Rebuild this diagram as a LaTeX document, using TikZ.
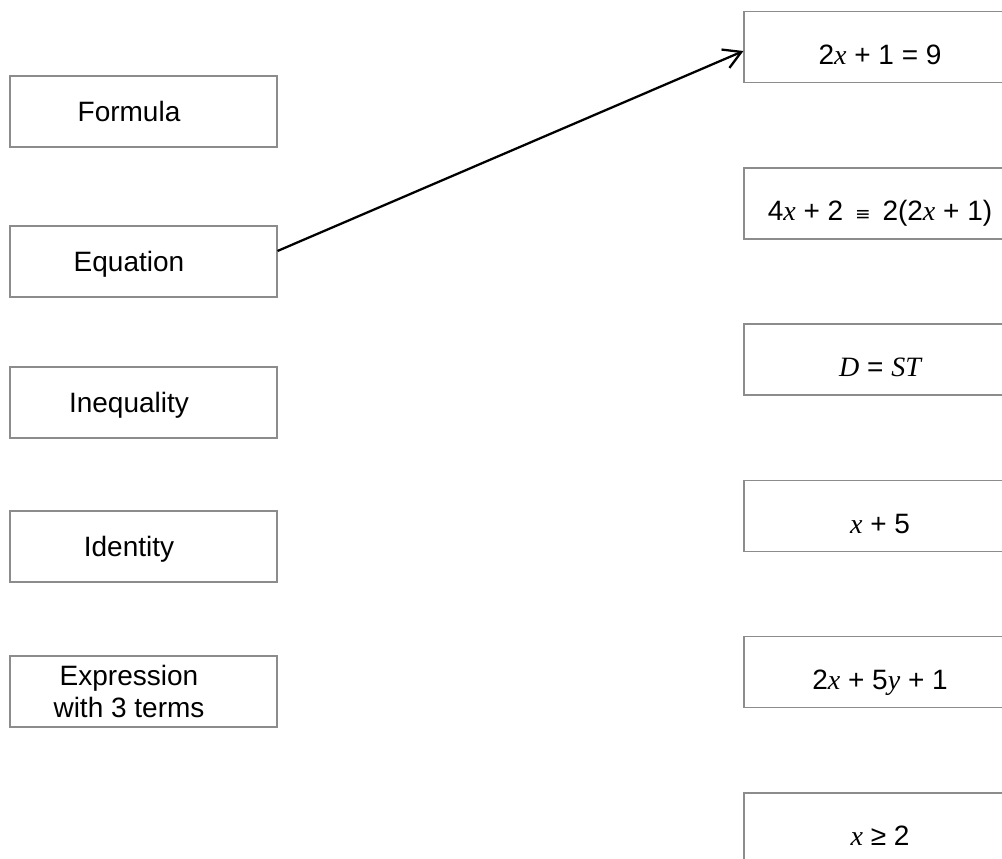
\documentclass[tikz,border=0pt]{standalone}
\usepackage{fontspec}
\setmainfont{Liberation Sans}
\newfontfamily\vfont{Liberation Serif}
\newfontfamily\symfont{DejaVu Sans}
\usetikzlibrary{arrows.meta}
\newcommand{\mv}[1]{{\vfont\itshape #1}}
\newcommand{\tpad}{\hspace*{21.75pt}}

\begin{document}
\begin{tikzpicture}[x=0.75pt, y=-0.75pt]
        \tikzstyle{box}=[draw=black!45, line width=0.8pt, minimum width=200.25pt, minimum height=53.25pt, inner sep=0pt, align=center, font=\fontsize{21}{24}\selectfont]
        \tikzstyle{term-box}=[box, text depth=0pt]
        \tikzstyle{example-box}=[box, minimum width=204pt, text height=25.5pt, text depth=0pt]
        \tikzstyle{link}=[-{Straight Barb[length=13pt, width=15pt]}, line width=1.7pt]
        \clip (0, 0) rectangle (1002, 858);
        \node[term-box] (formula) at (143.5, 111.5) {Formula\tpad};
        \node[term-box] (equation) at (143.5, 261.5) {Equation\tpad};
        \node[term-box] (inequality) at (143.5, 402.5) {Inequality\tpad};
        \node[term-box] (identity) at (143.5, 546.5) {Identity\tpad};
        \node[box] (expression) at (143.5, 691.5) {Expression\tpad\\with 3 terms\tpad};

        \node[example-box] (ex-equation) at (880, 47) {2\mv{x} + 1 = 9};
        \node[example-box] (ex-identity) at (880, 203.5) {4\mv{x} + 2\hspace{3pt} {\symfont\fontsize{14}{14}\selectfont ≡}\hspace{3pt} 2(2\mv{x} + 1)};
        \node[example-box] (ex-formula) at (880, 359.5) {\mv{D} = \mv{ST}};
        \node[example-box] (ex-sum) at (880, 516) {\mv{x} + 5};
        \node[example-box] (ex-terms) at (880, 672) {2\mv{x} + 5\mv{y} + 1};
        \node[example-box] (ex-inequality) at (880, 828.5) {\mv{x} ≥ 2};

        \draw[link] ([yshift=7.9pt]equation.east) -- ([yshift=-3pt]ex-equation.west);
    \end{tikzpicture}
\end{document}
